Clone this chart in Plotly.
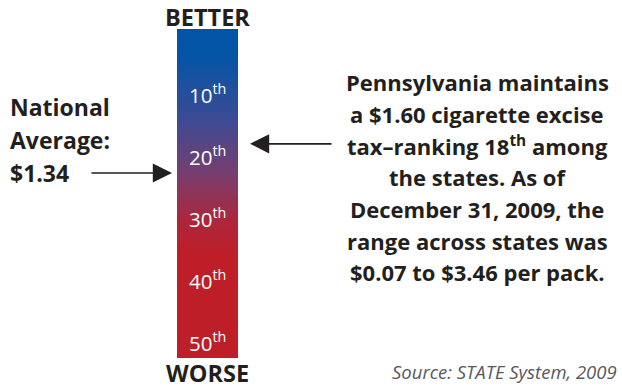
import plotly.graph_objects as go

# rank scale shown on the bar (1 = highest tax = better)
ranks = [r / 2 for r in range(-1, 106)]
rank_labels = [10, 20, 30, 40, 50]
pa_rank = 18
national_avg_rank = 22.7

left_lines = ["National", "Average:", "$1.34"]
right_lines = [
    "Pennsylvania maintains",
    "a $1.60 cigarette excise",
    "tax\u2013ranking 18<sup>th</sup> among",
    "the states. As of",
    "December 31, 2009, the",
    "range across states was",
    "$0.07 to $3.46 per pack.",
]
source = "Source: STATE System, 2009"

W, H = 622, 388
bar_x0, bar_x1 = 177, 238
bar_y0, bar_y1 = 29, 358

colorscale = [
    [0.0, "rgb(0,84,166)"],
    [0.08, "rgb(4,84,166)"],
    [0.28, "rgb(62,74,148)"],
    [0.44, "rgb(120,62,110)"],
    [0.58, "rgb(172,38,60)"],
    [0.68, "rgb(190,30,40)"],
    [1.0, "rgb(190,30,40)"],
]

fig = go.Figure(go.Heatmap(
    x=[0, 1],
    y=ranks,
    z=[[r, r] for r in ranks],
    colorscale=colorscale,
    zsmooth="best",
    showscale=False,
    hoverinfo="skip",
))

font = "Open Sans"
dark = "#231f20"


def px(x):
    return x / W


def py(y):
    return 1 - y / H


annotations = []
for r in rank_labels:
    annotations.append(dict(
        x=0.5, y=r, xref="x", yref="y", showarrow=False,
        text=f"{r}<sup>th</sup>", font=dict(family=font, size=20.5, color="white"),
    ))

cx = (bar_x0 + bar_x1) / 2
annotations += [
    dict(x=px(cx), y=py(17), xref="paper", yref="paper", yanchor="middle",
         text="<b>BETTER</b>", showarrow=False,
         font=dict(family=font, size=23.5, color=dark)),
    dict(x=px(cx), y=py(373), xref="paper", yref="paper", yanchor="middle",
         text="<b>WORSE</b>", showarrow=False,
         font=dict(family=font, size=23.5, color=dark)),
]
for i, line in enumerate(left_lines):
    annotations.append(dict(
        x=px(8), y=py(107 + 33 * i), xref="paper", yref="paper",
        xanchor="left", yanchor="middle", text=f"<b>{line}</b>",
        showarrow=False, font=dict(family=font, size=23, color=dark)))
for i, line in enumerate(right_lines):
    annotations.append(dict(
        x=px(477), y=py(82 + 31.7 * i), xref="paper", yref="paper",
        xanchor="center", yanchor="middle", text=f"<b>{line}</b>",
        showarrow=False, font=dict(family=font, size=22, color=dark)))

annotations += [
    dict(x=px(619), y=py(371), xref="paper", yref="paper", xanchor="right",
         yanchor="middle", text=f"<i>{source}</i>", showarrow=False,
         font=dict(family=font, size=18.5, color="#58595b")),
    # arrows
    dict(x=px(172), y=national_avg_rank, xref="paper", yref="y",
         ax=-82, ay=0, text="", showarrow=True, arrowhead=2, arrowsize=2.4,
         arrowwidth=1.6, arrowcolor=dark),
    dict(x=px(250), y=pa_rank, xref="paper", yref="y",
         ax=83, ay=0, text="", showarrow=True, arrowhead=2, arrowsize=2.4,
         arrowwidth=1.6, arrowcolor=dark),
]

fig.update_layout(
    width=W, height=H,
    margin=dict(l=0, r=0, t=0, b=0),
    paper_bgcolor="white", plot_bgcolor="white",
    xaxis=dict(domain=[px(bar_x0), px(bar_x1)], range=[0, 1], visible=False,
               fixedrange=True),
    yaxis=dict(domain=[py(bar_y1), py(bar_y0)], range=[52.5, -0.5],
               visible=False, fixedrange=True),
    annotations=annotations,
)

fig.write_html("out.html", config={"displayModeBar": False},
               post_script="document.body.style.margin='0';")
